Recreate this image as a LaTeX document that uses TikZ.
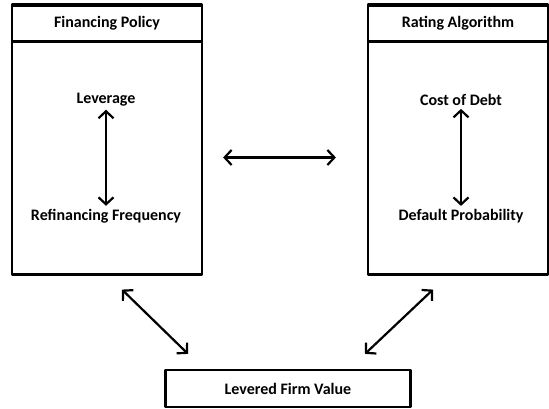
\documentclass[tikz,border=0pt]{standalone}
\usepackage{fontspec}
\setmainfont{Carlito}
\usetikzlibrary{arrows.meta}
\tikzset{
  panel/.style={draw,line width=2.2pt,minimum width=190pt,minimum height=270pt},
  head/.style={draw,line width=2.2pt,minimum width=190pt,minimum height=36pt,anchor=north},
  lbl/.style={font=\fontsize{16}{18}\selectfont\bfseries,inner sep=3pt},
  dbl/.style={line width=2.2pt,{Straight Barb[length=7pt,width=15pt]}-{Straight Barb[length=7pt,width=15pt]}}
}
\begin{document}
\begin{tikzpicture}[x=1pt,y=-1pt,line cap=round,line join=round]
\useasboundingbox (0,0) rectangle (549,409);
\node[panel] (finbox) at (107,139.5) {};
\node[head,lbl,inner sep=0pt] (finhead) at (107,4.5) {Financing Policy};
\node[panel,minimum width=180pt] (ratbox) at (458,139.5) {};
\node[head,lbl,inner sep=0pt,minimum width=180pt] (rathead) at (458,4.5) {Rating Algorithm};
\node[lbl] (lev) at (106,100) {Leverage};
\node[lbl] (refin) at (106,216) {Refinancing Frequency};
\node[lbl] (cod) at (461,100) {Cost of Debt};
\node[lbl] (dp) at (461,216) {Default Probability};
\node[draw,line width=2.2pt,minimum width=245pt,minimum height=37pt,lbl] (firm) at (288,388.5) {Levered Firm Value};
\draw[dbl] (lev) -- (refin);
\draw[dbl] (cod) -- (dp);
\draw[dbl,shorten <=20pt,shorten >=31pt] ([yshift=-18pt]finbox.east) -- ([yshift=-18pt]ratbox.west);
\draw[dbl] ([xshift=15pt,yshift=-14pt]finbox.south) -- ([xshift=-100pt,yshift=15pt]firm.north);
\draw[dbl] ([xshift=-25pt,yshift=-14pt]ratbox.south) -- ([xshift=77pt,yshift=15pt]firm.north);
\end{tikzpicture}
\end{document}
